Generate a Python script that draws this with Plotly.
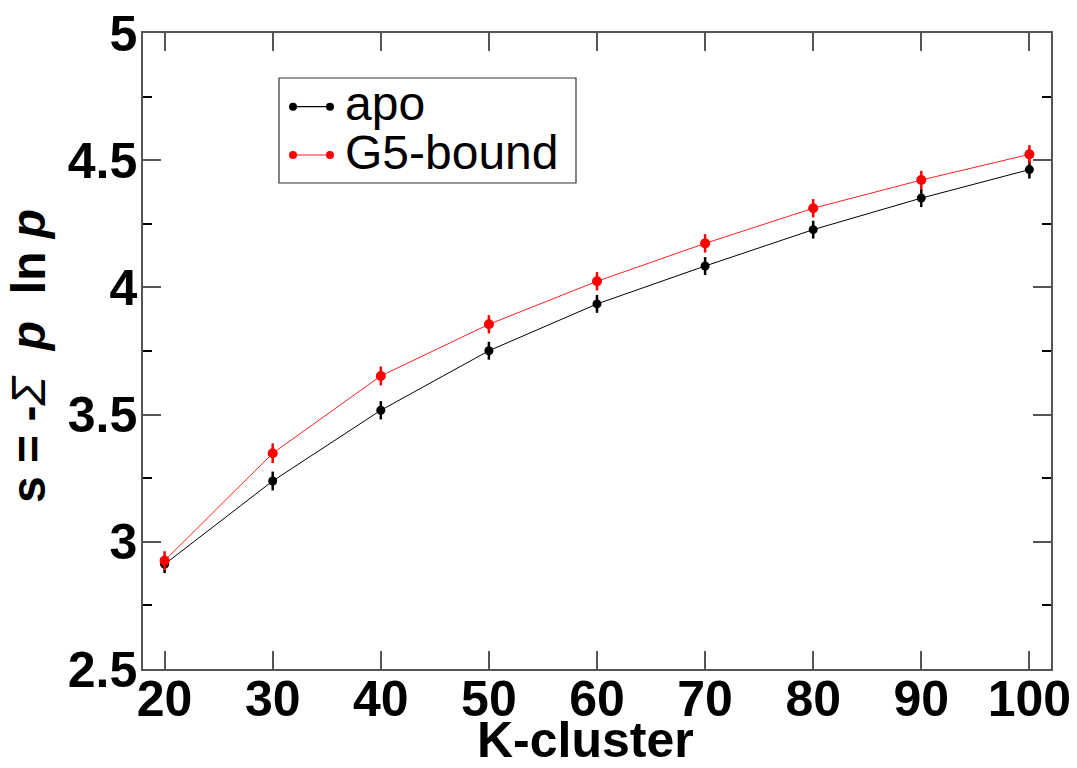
import plotly.graph_objects as go

k_cluster = [20, 30, 40, 50, 60, 70, 80, 90, 100]
apo = [2.912, 3.239, 3.517, 3.751, 3.935, 4.084, 4.227, 4.351, 4.463]
apo_err = [0.035, 0.037, 0.036, 0.035, 0.035, 0.035, 0.035, 0.035, 0.035]
g5_bound = [2.926, 3.348, 3.652, 3.855, 4.024, 4.173, 4.311, 4.422, 4.523]
g5_err = [0.037, 0.039, 0.037, 0.036, 0.036, 0.036, 0.036, 0.036, 0.036]
x_ticks = [20, 30, 40, 50, 60, 70, 80, 90, 100]
y_ticks = [2.5, 3, 3.5, 4, 4.5, 5]

FONT = "Liberation Sans, Arial, Helvetica, sans-serif"
AX = "#555555"

fig = go.Figure()
fig.add_trace(go.Scatter(
    x=k_cluster, y=apo, mode="lines+markers", name="apo",
    line=dict(color="black", width=1),
    marker=dict(color="black", size=9),
    error_y=dict(type="data", array=apo_err, color="black", thickness=2.5, width=0),
))
fig.add_trace(go.Scatter(
    x=k_cluster, y=g5_bound, mode="lines+markers", name="G5-bound",
    line=dict(color="#ff2020", width=1),
    marker=dict(color="#ff0000", size=10),
    error_y=dict(type="data", array=g5_err, color="#ff0000", thickness=2.5, width=0),
))

fig.update_layout(
    width=1077, height=768,
    margin=dict(l=143, r=26, t=33, b=99),
    plot_bgcolor="white", paper_bgcolor="white",
    showlegend=False,
    font=dict(family=FONT, color="black"),
)
fig.update_xaxes(
    range=[18, 102], tickvals=x_ticks, ticktext=[str(v) for v in x_ticks],
    ticks="inside", ticklen=18, tickwidth=1.5, tickcolor=AX,
    showline=True, linecolor=AX, linewidth=1.5, mirror="ticks",
    showgrid=False, zeroline=False, automargin=False,
    tickfont=dict(size=50, family=FONT, weight="bold"),
    ticklabelstandoff=-15,
)
fig.update_yaxes(
    range=[2.5, 5], tickvals=y_ticks, ticktext=["2.5", "3", "3.5", "4", "4.5", "5"],
    ticks="inside", ticklen=18, tickwidth=1.5, tickcolor=AX,
    minor=dict(dtick=0.25, ticks="inside", ticklen=9, tickwidth=1.5, tickcolor="black", showgrid=False),
    showline=True, linecolor=AX, linewidth=1.5, mirror="ticks",
    showgrid=False, zeroline=False, automargin=False,
    tickfont=dict(size=50, family=FONT, weight="bold"),
    ticklabelstandoff=-6,
)

px_w, px_h = 908.0, 636.0
def px(xp):
    return (xp - 143) / px_w
def py(yp):
    return (669 - yp) / px_h

# axis titles
fig.add_annotation(xref="paper", yref="paper", x=px(585), y=py(740),
                   text="<b>K-cluster</b>", showarrow=False,
                   xanchor="center", yanchor="middle",
                   font=dict(size=50, family=FONT, color="black"))
fig.add_annotation(xref="paper", yref="paper", x=px(29), y=py(356),
                   text="<b>s = -</b><i>\u03a3</i>\u00a0\u00a0<b><i>p</i>\u00a0 ln <i>p</i></b>",
                   showarrow=False, textangle=-90,
                   xanchor="center", yanchor="middle",
                   font=dict(size=48, family=FONT, color="black"))

# custom legend (markers at both ends of the sample line)
fig.add_shape(type="rect", xref="paper", yref="paper",
              x0=px(279), x1=px(576), y0=py(183), y1=py(78),
              line=dict(color="#333333", width=1.2), fillcolor="white", layer="above")
legend_items = [("apo", "black", "black", 106.7), ("G5-bound", "#ff2020", "#ff0000", 155)]
for label, lc, mc, yy in legend_items:
    fig.add_shape(type="line", xref="paper", yref="paper",
                  x0=px(293), x1=px(330), y0=py(yy), y1=py(yy),
                  line=dict(color=lc, width=1.2), layer="above")
    for xc in (293, 330):
        fig.add_shape(type="circle", xref="paper", yref="paper",
                      x0=px(xc - 4), x1=px(xc + 4), y0=py(yy + 4), y1=py(yy - 4),
                      line=dict(color=mc, width=0), fillcolor=mc, layer="above")
    fig.add_annotation(xref="paper", yref="paper", x=px(343), y=py(yy - 3),
                       text=label, showarrow=False, xanchor="left", yanchor="middle",
                       font=dict(size=48, family=FONT, color="black"))

fig.write_html("out.html")
